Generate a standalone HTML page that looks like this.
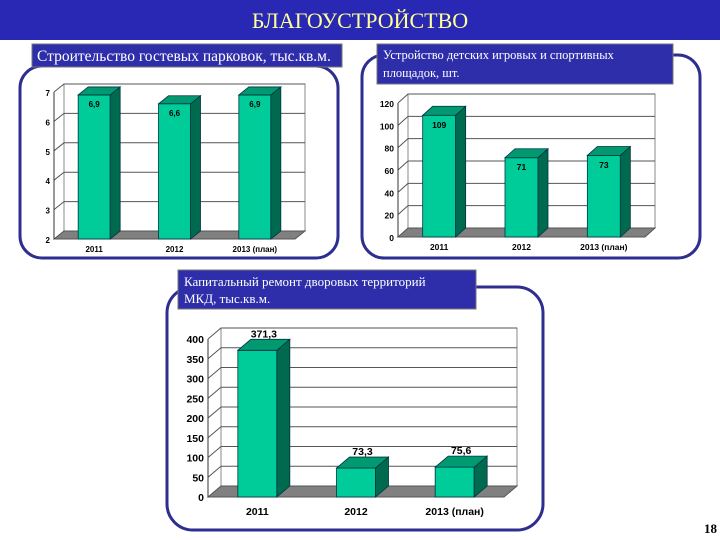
<!DOCTYPE html>
<html><head><meta charset="utf-8">
<style>
html,body{margin:0;padding:0;background:#fff;}
svg{display:block;}
</style></head>
<body>
<svg id="s" width="720" height="540" xmlns="http://www.w3.org/2000/svg">
  <rect x="0" y="0" width="720" height="40" fill="#2828b4"/>
  <text x="360" y="28" text-anchor="middle" font-family="Liberation Serif, serif" font-size="22" fill="#ffff99">БЛАГОУСТРОЙСТВО</text>

  <rect x="20" y="66" width="318" height="192" rx="22" fill="#fff" stroke="#2e2e90" stroke-width="3"/>
  <rect x="362" y="55" width="338" height="203" rx="22" fill="#fff" stroke="#2e2e90" stroke-width="3"/>
  <rect x="167" y="287" width="376" height="243" rx="26" fill="#fff" stroke="#2e2e90" stroke-width="3"/>

  <rect x="32" y="44" width="310" height="23" fill="#2e2eaa" stroke="#777"/>
  <text x="37" y="61" font-family="Liberation Serif, serif" font-size="15.5" fill="#fff">Строительство гостевых парковок, тыс.кв.м.</text>

  <rect x="377" y="44" width="296" height="40" fill="#2e2eaa" stroke="#777"/>
  <text x="383" y="59" font-family="Liberation Serif, serif" font-size="12.5" fill="#fff">Устройство детских игровых и спортивных</text>
  <text x="383" y="77" font-family="Liberation Serif, serif" font-size="12.5" fill="#fff">площадок, шт.</text>

  <rect x="178" y="270" width="298" height="39" fill="#2e2eaa" stroke="#777"/>
  <text x="184" y="286" font-family="Liberation Serif, serif" font-size="13" fill="#fff">Капитальный ремонт дворовых территорий</text>
  <text x="184" y="303" font-family="Liberation Serif, serif" font-size="13" fill="#fff">МКД, тыс.кв.м.</text>

  <text x="717" y="533" text-anchor="end" font-family="Liberation Serif, serif" font-size="13" font-weight="bold" fill="#000">18</text>
  <g id="charts"></g>
</svg>
<script>
const categories = ["2011", "2012", "2013 (план)"];
const parkingValues = [6.9, 6.6, 6.9];
const parkingLabels = ["6,9", "6,6", "6,9"];
const parkingTicks = [2, 3, 4, 5, 6, 7];
const playValues = [109, 71, 73];
const playLabels = ["109", "71", "73"];
const playTicks = [0, 20, 40, 60, 80, 100, 120];
const yardValues = [371.3, 73.3, 75.6];
const yardLabels = ["371,3", "73,3", "75,6"];
const yardTicks = [0, 50, 100, 150, 200, 250, 300, 350, 400];

const NS = "http://www.w3.org/2000/svg";
const root = document.getElementById("charts");
function mk(tag, attrs, parent) {
  const e = document.createElementNS(NS, tag);
  for (const k in attrs) e.setAttribute(k, attrs[k]);
  (parent || root).appendChild(e);
  return e;
}
function chart(cfg, name) {
  const g = mk("g", {});
  
  
  const min = cfg.ticks[0], max = cfg.ticks[cfg.ticks.length - 1];
  const y = v => cfg.y0 - (v - min) / (max - min) * (cfg.y0 - cfg.y1);
  const dx = cfg.dx, dy = cfg.dy;
  // back wall
  const wall = mk("rect", {x: cfg.x0 + dx, y: y(max) + dy, width: cfg.x2 - cfg.x0 - dx, height: cfg.y0 - y(max), fill: "#fff", stroke: "#888", "stroke-width": 1}, g);
  
  
  // floor
  const floor = mk("polygon", {points: `${cfg.x0},${cfg.y0} ${cfg.x0 + dx},${cfg.y0 + dy} ${cfg.x2},${cfg.y0 + dy} ${cfg.x2 - dx},${cfg.y0}`, fill: "#808080", stroke: "#555"}, g);
  
  
  // gridlines & ticks
  cfg.ticks.forEach(t => {
    const yy = y(t);
    if (t !== min) {
      const gl = mk("polyline", {points: `${cfg.x0},${yy} ${cfg.x0 + dx},${yy + dy} ${cfg.x2},${yy + dy}`, fill: "none", stroke: "#555", "stroke-width": 1}, g);
      
      
    }
    const tl = mk("text", {x: cfg.x0 - 4, y: yy + 4, "text-anchor": "end", "font-family": "Liberation Sans, sans-serif", "font-size": cfg.fs, "font-weight": "bold", fill: "#000"}, g);
    tl.textContent = String(t);
    
    
  });
  const ax = mk("line", {x1: cfg.x0, y1: y(max), x2: cfg.x0, y2: cfg.y0, stroke: "#333"}, g);
  
  
  const n = categories.length, slot = (cfg.x2 - dx - cfg.x0) / n;
  categories.forEach((c, i) => {
    const cx = cfg.x0 + slot * (i + 0.5);
    const bx = cx - cfg.bw / 2, top = y(cfg.values[i]);
    const front = mk("rect", {x: bx, y: top, width: cfg.bw, height: cfg.y0 - top, fill: "#00cc99", stroke: "#034", "stroke-width": 0.8}, g);
    
    
    const side = mk("polygon", {points: `${bx + cfg.bw},${top} ${bx + cfg.bw + dx},${top + dy} ${bx + cfg.bw + dx},${cfg.y0 + dy} ${bx + cfg.bw},${cfg.y0}`, fill: "#006a4e", stroke: "#034", "stroke-width": 0.8}, g);
    
    
    const tp = mk("polygon", {points: `${bx},${top} ${bx + dx},${top + dy} ${bx + cfg.bw + dx},${top + dy} ${bx + cfg.bw},${top}`, fill: "#009970", stroke: "#034", "stroke-width": 0.8}, g);
    
    
    const vl = mk("text", {x: cx + (cfg.labelAbove ? dx / 2 : 0), y: cfg.labelAbove ? top + dy - 2 : top + cfg.fs + 4, "text-anchor": "middle", "font-family": "Liberation Sans, sans-serif", "font-size": cfg.fs, "font-weight": "bold", fill: "#000"}, g);
    vl.textContent = cfg.labels[i];
    
    
    const cl = mk("text", {x: cx, y: cfg.catY, "text-anchor": "middle", "font-family": "Liberation Sans, sans-serif", "font-size": cfg.fs, "font-weight": "bold", fill: "#000"}, g);
    cl.textContent = c;
    
    
  });
}
chart({values: parkingValues, labels: parkingLabels, ticks: parkingTicks, x0: 54, x2: 305, y0: 239, y1: 92, dx: 10, dy: -8, bw: 32, fs: 8, catY: 252}, "chart-parking");
chart({values: playValues, labels: playLabels, ticks: playTicks, x0: 398, x2: 655, y0: 237, y1: 103, dx: 10, dy: -9, bw: 33, fs: 8.5, catY: 250}, "chart-playgrounds");
chart({values: yardValues, labels: yardLabels, ticks: yardTicks, x0: 208, x2: 517, y0: 497, y1: 339, dx: 13, dy: -11, bw: 39, fs: 10.5, catY: 515, labelAbove: true}, "chart-yards");
</script>
</body></html>
